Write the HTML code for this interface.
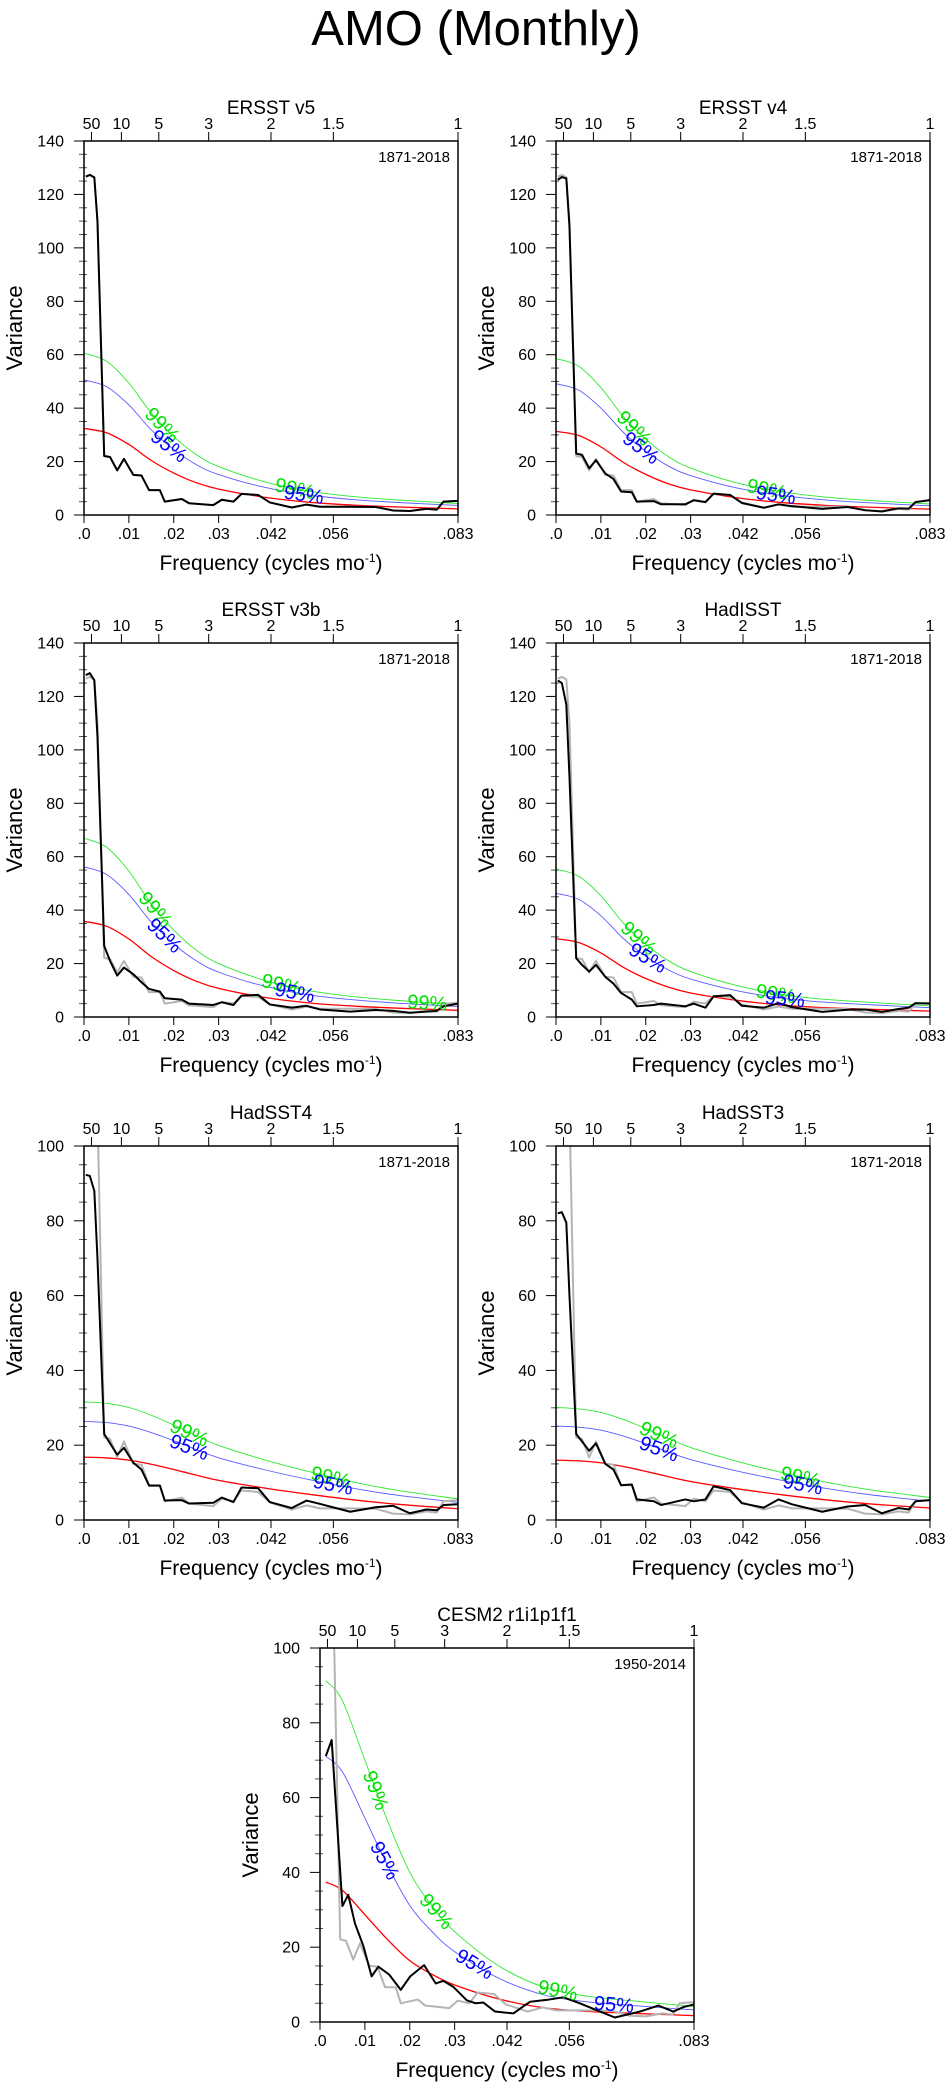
<!DOCTYPE html>
<html><head><meta charset="utf-8"><title>AMO (Monthly)</title>
<style>
html,body{margin:0;padding:0;background:#fff;}
svg{display:block;font-family:"Liberation Sans",Arial,sans-serif;}
</style></head>
<body>
<svg id="chart" width="952" height="2091" viewBox="0 0 952 2091" xmlns="http://www.w3.org/2000/svg">
<rect width="952" height="2091" fill="#fff"/>
<text x="476" y="45" font-size="49" text-anchor="middle">AMO (Monthly)</text>
</svg>
<script>
// ---- data ----
const F = [0.0004,0.0013,0.0023,0.003,0.0045,0.0058,0.0074,0.0089,0.011,0.0128,0.0145,0.0169,0.018,0.0218,0.0234,0.0288,0.0307,0.0333,0.0351,0.0388,0.0414,0.0463,0.0496,0.0526,0.0593,0.065,0.0689,0.0726,0.0763,0.0786,0.0801,0.0833];
const ersstV5 = [126.7,127.3,126.4,110,22.1,21.7,16.7,21,15,14.8,9.3,9.3,5,6,4.4,3.7,5.7,5,7.9,7.5,4.7,2.8,3.9,3.1,3.1,3.0,1.7,1.5,2.3,2,5,5.3];
const ersstV4 = [125.5,126.5,126,108,23,22.5,17.5,20.5,15.5,13.5,8.8,8.5,5,5.2,4,4,5.5,4.8,8,7.5,4.5,2.7,4,3.3,2.3,3.0,1.8,1.3,2.5,2.4,4.8,5.6];
const ersstV3b = [128,128.7,126,105,26.6,21,15.5,18.5,16,13,10.5,9.5,7,6.5,5,4.5,5.5,4.5,8,8.3,4.7,3.5,4.2,2.8,2.0,2.6,2.3,1.6,2,2.3,4,5];
const hadisst = [126,125,117,90,22,19.5,17,19.5,15,12.5,9,6.5,4,4.5,5,4,5,3.5,7.7,8.2,4.2,3.5,5.2,3.7,1.9,2.7,2.8,1.9,3.0,3.5,5.2,5];
const hadsst4 = [92.3,92,88,70,23,20.5,17.5,19.3,15.3,13.5,9.2,9.2,5.2,5.3,4.4,4.6,6,4.8,8.7,8.5,4.8,3.2,5.2,4.3,2.2,3.4,3.8,1.8,2.8,2.6,4,4.2];
const hadsst3 = [82,82.3,79.5,60,23,21,18.5,20.5,15,13.5,9.3,9.5,5.5,5,4,5.5,5,5.5,9,8,4.5,3.3,5.5,4.2,2.2,3.6,4,1.8,3.2,2.8,5,5.3];
const FC = [0.0013,0.0026,0.005,0.0063,0.0078,0.0097,0.0115,0.013,0.0154,0.018,0.0201,0.0232,0.0258,0.0275,0.0297,0.0327,0.0347,0.0364,0.039,0.0431,0.0453,0.0468,0.0505,0.0542,0.0579,0.0624,0.0657,0.0713,0.0754,0.0787,0.081,0.0833];
const cesm2 = [71.1,75.4,31,34,26.3,20.2,12.2,14.8,12.7,8.6,12.2,15.2,10.3,11,9.4,5.8,5,5.2,2.8,2.3,4.2,5.4,5.9,6.6,5,2.8,1.2,2.8,4.4,2.8,4,4.7];
const RF = [0,0.005,0.01,0.015,0.02,0.025,0.03,0.04,0.05,0.06,0.07,0.0833];
const RFC = [0.0013,0.005,0.01,0.015,0.02,0.025,0.03,0.04,0.05,0.06,0.07,0.0833];
const redV5 = [32.4,30.8,26.4,20.4,15.7,12.1,9.7,6.7,4.8,3.7,3.0,2.3];
const redV4 = [31.3,29.8,25.5,19.7,15.2,11.7,9.4,6.5,4.7,3.6,2.9,2.2];
const redV3b = [35.8,34.0,29.2,22.6,17.4,13.4,10.7,7.4,5.3,4.1,3.3,2.5];
const redHadisst = [29.3,27.9,24.0,18.6,14.4,11.2,9.0,6.3,4.5,3.5,2.9,2.2];
const redHadsst4 = [16.8,16.6,16.0,14.9,13.5,12.0,10.6,8.6,6.9,5.4,4.2,3.0];
const redHadsst3 = [16.0,15.8,15.3,14.3,13.0,11.6,10.3,8.4,6.8,5.4,4.3,3.2];
const redCesm = [37.4,35.2,28.7,22.1,16.4,12.7,9.9,6.1,3.8,2.8,2.3,1.7];
const mult95 = [1.56,1.57,1.57,1.58,1.57,1.57,1.9];
const mult99 = [1.87,1.87,1.87,1.89,1.88,1.88,2.44];
const yTicks140 = [0,20,40,60,80,100,120,140];
const yTicks100 = [0,20,40,60,80,100];
const xTickVals = [0,0.01,0.02,0.03,0.041667,0.055556,0.083333];
const xTickLabels = [".0",".01",".02",".03",".042",".056",".083"];
const periodVals = [50,10,5,3,2,1.5,1];
const periodLabels = ["50","10","5","3","2","1.5","1"];

// ---- layout ----
const NS = "http://www.w3.org/2000/svg";
const svg = document.getElementById("chart");
const W = 374, H = 374, FMAX = 1/12;
const panels = [
 {key:"ersst-v5",title:"ERSST v5",x0:84,y0:141,ymax:140,ticks:yTicks140,f:F,s:ersstV5,rf:RF,red:redV5,i:0,yrs:"1871-2018",l99:[0.0175,0.047],l95:[0.019,0.049]},
 {key:"ersst-v4",title:"ERSST v4",x0:556,y0:141,ymax:140,ticks:yTicks140,f:F,s:ersstV4,rf:RF,red:redV4,i:1,yrs:"1871-2018",l99:[0.0175,0.047],l95:[0.019,0.049]},
 {key:"ersst-v3b",title:"ERSST v3b",x0:84,y0:643,ymax:140,ticks:yTicks140,f:F,s:ersstV3b,rf:RF,red:redV3b,i:2,yrs:"1871-2018",l99:[0.016,0.044,0.0765],l95:[0.018,0.047]},
 {key:"hadisst",title:"HadISST",x0:556,y0:643,ymax:140,ticks:yTicks140,f:F,s:hadisst,rf:RF,red:redHadisst,i:3,yrs:"1871-2018",l99:[0.0185,0.049],l95:[0.0205,0.051]},
 {key:"hadsst4",title:"HadSST4",x0:84,y0:1146,ymax:100,ticks:yTicks100,f:F,s:hadsst4,rf:RF,red:redHadsst4,i:4,yrs:"1871-2018",l99:[0.0235,0.055],l95:[0.0235,0.0555]},
 {key:"hadsst3",title:"HadSST3",x0:556,y0:1146,ymax:100,ticks:yTicks100,f:F,s:hadsst3,rf:RF,red:redHadsst3,i:5,yrs:"1871-2018",l99:[0.023,0.0545],l95:[0.023,0.055]},
 {key:"cesm2",title:"CESM2 r1i1p1f1",x0:320,y0:1648,ymax:100,ticks:yTicks100,f:FC,s:cesm2,rf:RFC,red:redCesm,i:6,yrs:"1950-2014",l99:[0.0125,0.026,0.053],l95:[0.0145,0.0345,0.0655]}
];

function el(tag, attrs, parent){
  const e = document.createElementNS(NS, tag);
  for (const k in attrs) e.setAttribute(k, attrs[k]);
  (parent||svg).appendChild(e);
  return e;
}
function interp(xs, ys, x){
  if (x <= xs[0]) return ys[0];
  for (let k=1;k<xs.length;k++){ if (x<=xs[k]){ const t=(x-xs[k-1])/(xs[k]-xs[k-1]); return ys[k-1]+t*(ys[k]-ys[k-1]); } }
  return ys[ys.length-1];
}
function smoothPath(pts){
  let d = "M"+pts[0][0].toFixed(2)+","+pts[0][1].toFixed(2);
  for (let k=0;k<pts.length-1;k++){
    const p0=pts[Math.max(0,k-1)], p1=pts[k], p2=pts[k+1], p3=pts[Math.min(pts.length-1,k+2)];
    const c1=[p1[0]+(p2[0]-p0[0])/6, p1[1]+(p2[1]-p0[1])/6];
    const c2=[p2[0]-(p3[0]-p1[0])/6, p2[1]-(p3[1]-p1[1])/6];
    d += " C"+c1[0].toFixed(2)+","+c1[1].toFixed(2)+" "+c2[0].toFixed(2)+","+c2[1].toFixed(2)+" "+p2[0].toFixed(2)+","+p2[1].toFixed(2);
  }
  return d;
}

panels.forEach(p => {
  const g = el("g", {});
  
  
  const sx = f => p.x0 + f / FMAX * W;
  const sy = v => p.y0 + H - v / p.ymax * H;
  const clipId = "clip-" + p.key;
  const cp = el("clipPath", {id: clipId}, g);
  el("rect", {x:p.x0, y:p.y0, width:W, height:H}, cp);

  const t = el("text", {x:p.x0+W/2, y:p.y0-27, "font-size":19, "text-anchor":"middle"}, g);
  t.textContent = p.title;
  
  
  const yr = el("text", {x:p.x0+W-8, y:p.y0+21, "font-size":15, "text-anchor":"end"}, g);
  yr.textContent = p.yrs;
  
  

  const yl = el("text", {x:0, y:0, "font-size":22, "text-anchor":"middle", transform:"translate("+(p.x0-62)+","+(p.y0+H/2)+") rotate(-90)"}, g);
  yl.textContent = "Variance";
  
  
  const xl = el("text", {x:p.x0+W/2, y:p.y0+H+55, "font-size":21, "text-anchor":"middle"}, g);
  xl.innerHTML = 'Frequency (cycles mo<tspan dy="-8" font-size="12">-1</tspan><tspan dy="8">)</tspan>';
  
  

  const ymaxTick = p.ticks[p.ticks.length-1];
  for (let v=0; v<=ymaxTick; v+=5){
    const major = (v % 20 === 0);
    el("line", {x1:p.x0-(major?10:5), x2:p.x0+(major?0:3), y1:sy(v), y2:sy(v), stroke:major?"#000":"#555", "stroke-width":1}, g);
  }
  p.ticks.forEach(v => {
    const tl = el("text", {x:p.x0-20, y:sy(v)+5.5, "font-size":16, "text-anchor":"end"}, g);
    tl.textContent = String(v);
    
    
  });
  xTickVals.forEach((f,k) => {
    el("line", {x1:sx(f), x2:sx(f), y1:p.y0+H, y2:p.y0+H+8, stroke:"#000", "stroke-width":1}, g);
    const tl = el("text", {x:sx(f), y:p.y0+H+24, "font-size":16, "text-anchor":"middle"}, g);
    tl.textContent = xTickLabels[k];
    
    
  });
  periodVals.forEach((P,k) => {
    const f = 1/(12*P);
    el("line", {x1:sx(f), x2:sx(f), y1:p.y0, y2:p.y0-9, stroke:"#000", "stroke-width":1}, g);
    const tl = el("text", {x:sx(f), y:p.y0-12, "font-size":16, "text-anchor":"middle"}, g);
    tl.textContent = periodLabels[k];
    
    
  });

  const plot = el("g", {"clip-path":"url(#"+clipId+")"}, g);
  const m95 = mult95[p.i], m99 = mult99[p.i];
  const mk = (mult, color, width, name) => {
    const pts = p.rf.map((f,k) => [sx(f), sy(p.red[k]*mult)]);
    const path = el("path", {d:smoothPath(pts), fill:"none", stroke:color, "stroke-width":width}, plot);
    
    
  };
  mk(m99, "#2ee82e", 0.9, "significance-99-curve");
  mk(m95, "#5a5aff", 0.9, "significance-95-curve");
  mk(1, "#ff0000", 1.3, "red-noise-curve");

  const gpts = F.map((f,k) => sx(f).toFixed(2)+","+sy(ersstV5[k]).toFixed(2)).join(" ");
  const gl = el("polyline", {points:gpts, fill:"none", stroke:"#b4b4b4", "stroke-width":2, "stroke-linejoin":"round"}, plot);
  
  
  const bpts = p.f.map((f,k) => sx(f).toFixed(2)+","+sy(p.s[k]).toFixed(2)).join(" ");
  const bl = el("polyline", {points:bpts, fill:"none", stroke:"#000", "stroke-width":2, "stroke-linejoin":"round"}, plot);
  
  

  const lab = (f, mult, color, txt) => {
    const v = interp(p.rf, p.red, f)*mult;
    const v2 = interp(p.rf, p.red, f+0.002)*mult;
    const x = sx(f), y = sy(v);
    const ang = Math.atan2(sy(v2)-y, sx(f+0.002)-x)*180/Math.PI;
    const tx = el("text", {x:0, y:7, "font-size":20, "text-anchor":"middle", fill:color, transform:"translate("+x.toFixed(1)+","+y.toFixed(1)+") rotate("+ang.toFixed(1)+")"}, g);
    tx.textContent = txt;
    
    
  };
  p.l99.forEach(f => lab(f, m99, "#00e000", "99%"));
  p.l95.forEach(f => lab(f, m95, "#0000ff", "95%"));

  const fr = el("rect", {x:p.x0, y:p.y0, width:W, height:H, fill:"none", stroke:"#000", "stroke-width":1.5}, g);
  
  
});
</script>
</body></html>
